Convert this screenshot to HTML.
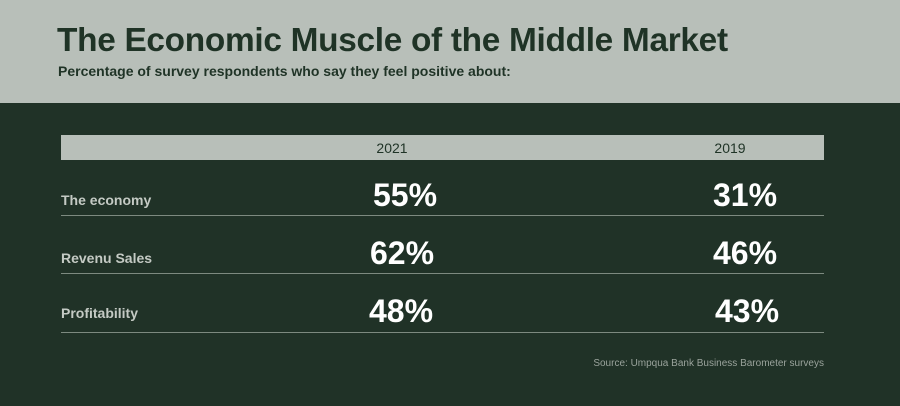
<!DOCTYPE html>
<html><head><style>
body{margin:0;width:900px;height:406px;overflow:hidden;background:#203227;font-family:"Liberation Sans",sans-serif;position:relative}
.top{position:absolute;left:0;top:0;width:900px;height:103px;background:#b8bfb9}
.t{position:absolute;left:57px;top:22px;font-size:33.4px;font-weight:bold;color:#1f3326;letter-spacing:-0.3px}
.s{position:absolute;left:58px;top:63px;font-size:14px;font-weight:bold;color:#1f3326}
.bar{position:absolute;left:61px;top:135px;width:763px;height:25px;background:#b8bfb9}
.y{position:absolute;top:140px;font-size:14px;color:#1f3326;width:80px;text-align:center}
.l{position:absolute;left:61px;font-size:14px;font-weight:bold;color:#c4cac4}
.n{position:absolute;font-size:32px;font-weight:bold;color:#fff;width:120px;text-align:center}
.h{position:absolute;left:61px;width:763px;height:1px;background:#7d8a80}
.src{position:absolute;right:76px;top:358px;font-size:10px;color:#9aa39c}
</style></head><body>
<div class="top"></div>
<div class="t">The Economic Muscle of the Middle Market</div>
<div class="s">Percentage of survey respondents who say they feel positive about:</div>
<div class="bar"></div>
<div class="y" style="left:352px">2021</div>
<div class="y" style="left:690px">2019</div>
<div class="l" style="top:192px">The economy</div>
<div class="l" style="top:250px">Revenu Sales</div>
<div class="l" style="top:305px">Profitability</div>
<div class="n" style="left:345px;top:177px">55%</div>
<div class="n" style="left:685px;top:177px">31%</div>
<div class="n" style="left:342px;top:235px">62%</div>
<div class="n" style="left:685px;top:235px">46%</div>
<div class="n" style="left:341px;top:293px">48%</div>
<div class="n" style="left:687px;top:293px">43%</div>
<div class="h" style="top:215px"></div>
<div class="h" style="top:273px"></div>
<div class="h" style="top:332px"></div>
<div class="src">Source: Umpqua Bank Business Barometer surveys</div>
</body></html>
